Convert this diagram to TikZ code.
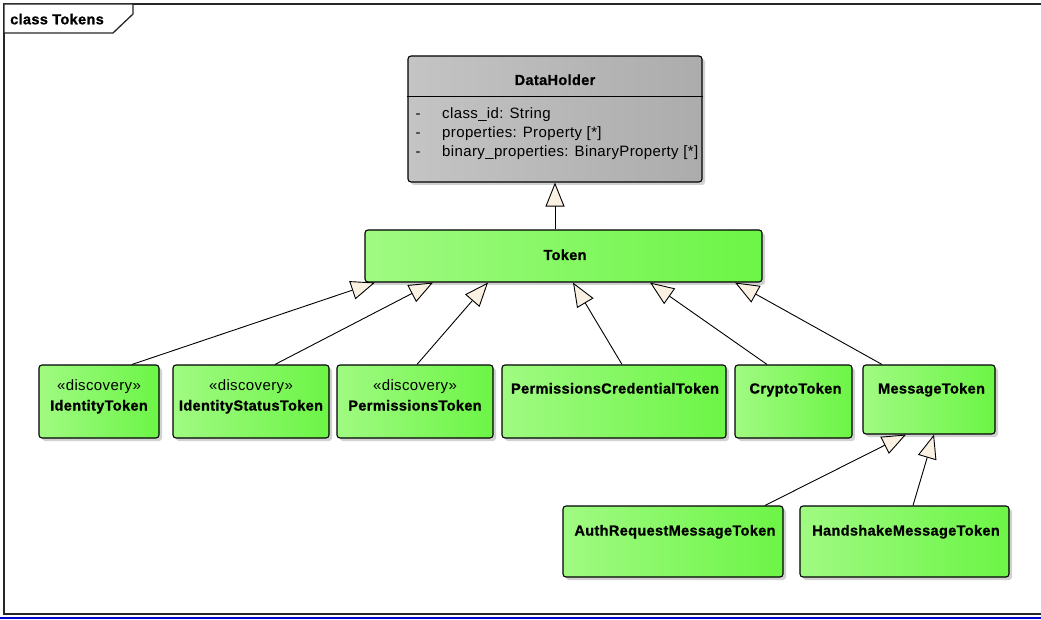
\documentclass[tikz,border=0pt]{standalone}
\usepackage{fontspec}
\setmainfont{Liberation Sans}[LetterSpace=2.5, BoldFeatures={FakeBold=1}]
\usetikzlibrary{arrows.meta,shadows}
\definecolor{gl}{RGB}{160,250,130}
\definecolor{gr}{RGB}{108,245,70}
\definecolor{hl}{RGB}{196,196,196}
\definecolor{hr}{RGB}{172,172,172}
\definecolor{cream}{RGB}{251,241,226}
\definecolor{edgeblue}{RGB}{0,0,210}
\tikzset{
  cls/.style={draw=black, line width=1.1pt, rounded corners=3pt, left color=gl, right color=gr,
    inner sep=0pt, drop shadow={shadow xshift=3pt, shadow yshift=-3pt, fill=black!30, opacity=0.6}},
  gcls/.style={cls, left color=hl, right color=hr},
  gen/.style={draw=black, line width=0.9pt, -{Triangle[length=24pt,width=19pt,fill=cream,line width=0.9pt]}},
  txt/.style={font=\fontsize{15}{17}\selectfont, inner sep=0pt, anchor=base},
  btxt/.style={txt, font=\fontsize{14.5}{17}\selectfont\bfseries},
  frameline/.style={draw=black!85, line width=1.3pt},
}
\begin{document}
\begin{tikzpicture}[x=1pt,y=-1pt]
\useasboundingbox (0,0) rectangle (1041,620);
% frame
\draw[frameline] (1041,4) -- (4,4) -- (4,614) -- (1041,614);
\draw[frameline, fill=white] (4,4) -- (133,4) -- (133,14) -- (113,33) -- (4,33) -- cycle;
\node[btxt, anchor=base west] (frametitle) at (10,24.3) {class Tokens};
\draw[edgeblue, line width=1.5pt] (0,618) -- (1041,618);

% DataHolder
\node[gcls, minimum width=294, minimum height=126] (dh) at (555,119) {};
\draw[black, line width=1pt] ([yshift=-41pt]dh.north west) -- ([yshift=-41pt]dh.north east);
\node[btxt] (dhtitle) at (555,85) {DataHolder};
\node[txt] (d1) at (418,119) {-};
\node[txt] (d2) at (418,138) {-};
\node[txt] (d3) at (418,157) {-};
\node[txt, anchor=base west] (a1) at (442,119) {class\_id: String};
\node[txt, anchor=base west] (a2) at (442,138) {properties: Property [*]};
\node[txt, anchor=base west] (a3) at (442,157) {binary\_properties: BinaryProperty [*]};

% Token
\node[cls, minimum width=397, minimum height=52] (token) at (563.5,256) {};
\node[btxt] (tokent) at (565,260) {Token};

% row of subclasses
\node[cls, minimum width=120, minimum height=73] (ident) at (99,401.5) {};
\node[txt] (identst) at (99,390) {«discovery»};
\node[btxt] (identt) at (99,410.5) {IdentityToken};

\node[cls, minimum width=156, minimum height=73] (idstat) at (251,401.5) {};
\node[txt] (idstatst) at (251,390) {«discovery»};
\node[btxt] (idstatt) at (251,410.5) {IdentityStatusToken};

\node[cls, minimum width=156, minimum height=73] (perm) at (415,401.5) {};
\node[txt] (permst) at (415,390) {«discovery»};
\node[btxt] (permt) at (415,410.5) {PermissionsToken};

\node[cls, minimum width=224, minimum height=73] (pcred) at (614,401.5) {};
\node[btxt] (pcredt) at (615,393.5) {PermissionsCredentialToken};

\node[cls, minimum width=117, minimum height=73] (crypto) at (793.5,401.5) {};
\node[btxt] (cryptot) at (795.5,393.5) {CryptoToken};

\node[cls, minimum width=132, minimum height=69] (msg) at (929,399.5) {};
\node[btxt] (msgt) at (931.5,393.5) {MessageToken};

\node[cls, minimum width=220, minimum height=71] (auth) at (673,541.5) {};
\node[btxt] (autht) at (675,535.5) {AuthRequestMessageToken};

\node[cls, minimum width=209, minimum height=71] (hand) at (904.5,541.5) {};
\node[btxt] (handt) at (906,535.5) {HandshakeMessageToken};

% generalizations
\draw[gen] (token.north -| dh.south) -- (dh.south);
\draw[gen] ([xshift=33pt]ident.north) -- ([xshift=-188.5pt]token.south);
\draw[gen] ([xshift=24pt]idstat.north) -- ([xshift=-130.5pt]token.south);
\draw[gen] ([xshift=2pt]perm.north) -- ([xshift=-75.5pt]token.south);
\draw[gen] ([xshift=8pt]pcred.north) -- ([xshift=9.5pt]token.south);
\draw[gen] ([xshift=-26.5pt]crypto.north) -- ([xshift=86.5pt]token.south);
\draw[gen] ([xshift=-47pt]msg.north) -- ([xshift=171.5pt]token.south);
\draw[gen] ([xshift=92pt]auth.north) -- ([xshift=-23pt]msg.south);
\draw[gen] ([xshift=8.5pt]hand.north) -- ([xshift=5pt]msg.south);
\end{tikzpicture}
\end{document}
